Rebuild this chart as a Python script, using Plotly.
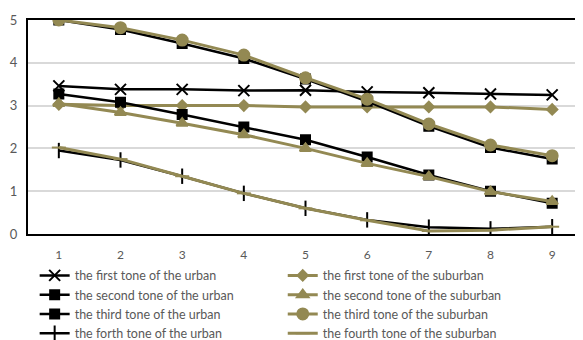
import plotly.graph_objects as go

x_vals = [1, 2, 3, 4, 5, 6, 7, 8, 9]
x_labels = ["1", "2", "3", "4", "5", "6", "7", "8", "9"]

urban_first = [3.46, 3.38, 3.38, 3.35, 3.36, 3.32, 3.30, 3.27, 3.25]
urban_second = [3.27, 3.08, 2.79, 2.50, 2.20, 1.80, 1.38, 1.00, 0.72]
urban_third = [5.00, 4.78, 4.45, 4.10, 3.62, 3.10, 2.52, 2.02, 1.75]
urban_fourth = [1.95, 1.73, 1.35, 0.95, 0.60, 0.33, 0.16, 0.12, 0.17]

suburban_first = [3.03, 3.00, 3.00, 3.00, 2.97, 2.97, 2.97, 2.97, 2.91]
suburban_second = [3.05, 2.84, 2.59, 2.32, 2.00, 1.65, 1.34, 0.99, 0.76]
suburban_third = [5.00, 4.82, 4.53, 4.18, 3.65, 3.15, 2.57, 2.08, 1.83]
suburban_fourth = [2.02, 1.75, 1.35, 0.95, 0.60, 0.32, 0.07, 0.09, 0.17]

names_urban = ["the first tone of the urban", "the second tone of the urban",
               "the third tone of the urban", "the forth tone of the urban"]
names_sub = ["the first tone of the suburban", "the second tone of the suburban",
             "the third tone of the suburban", "the fourth tone of the suburban"]

BLACK = "#000000"
OLIVE = "#938953"

urban = [urban_first, urban_second, urban_third, urban_fourth]
sub = [suburban_first, suburban_second, suburban_third, suburban_fourth]
u_sym = ["x-thin", "square", "square", "line-ns"]
u_size = [11, 9, 9, 11]
s_sym = ["diamond", "triangle-up", "circle", "line-ew"]
s_size = [8, 10, 11, 10]

fig = go.Figure()
for i in range(4):
    fig.add_trace(go.Scatter(
        x=x_vals, y=urban[i], name=names_urban[i], mode="lines+markers",
        line=dict(color=BLACK, width=2.5),
        marker=dict(symbol=u_sym[i], size=u_size[i], color=BLACK,
                    line=dict(color=BLACK, width=2)),
    ))
    fig.add_trace(go.Scatter(
        x=x_vals, y=sub[i], name=names_sub[i], mode="lines+markers",
        line=dict(color=OLIVE, width=3),
        marker=dict(symbol=s_sym[i], size=s_size[i], color=OLIVE,
                    line=dict(color=OLIVE, width=2)),
    ))

# The page places the figure 8px in from the top-left corner (default body margin),
# so the figure is sized to the remaining 575x332 area.
fig.update_layout(
    width=575, height=332,
    margin=dict(l=20, r=0, t=12, b=106, autoexpand=False),
    paper_bgcolor="white", plot_bgcolor="white",
    font=dict(family="Lato", size=13, color="#595959"),
    showlegend=True,
    legend=dict(orientation="h", x=0.012, xanchor="left", y=-0.125, yanchor="top",
                entrywidth=0.447, entrywidthmode="fraction",
                font=dict(size=12.5, color="#595959"), tracegroupgap=0,
                itemwidth=30),
    xaxis=dict(range=[0.5, 9.5], tickmode="array", tickvals=x_vals, ticktext=x_labels,
               showgrid=False, zeroline=False, showline=True, linecolor="black",
               linewidth=2, mirror=True, ticks="", tickfont=dict(size=12, color="#595959"),
               ticklabelstandoff=9, fixedrange=True),
    yaxis=dict(range=[0, 5], dtick=1, showgrid=True, gridcolor="#d9d9d9", gridwidth=1.5,
               zeroline=False, showline=True, linecolor="black", linewidth=2, mirror=False,
               ticks="", tickfont=dict(size=13, color="#595959"), ticklabelstandoff=6),
)

fig.write_html("out.html")
